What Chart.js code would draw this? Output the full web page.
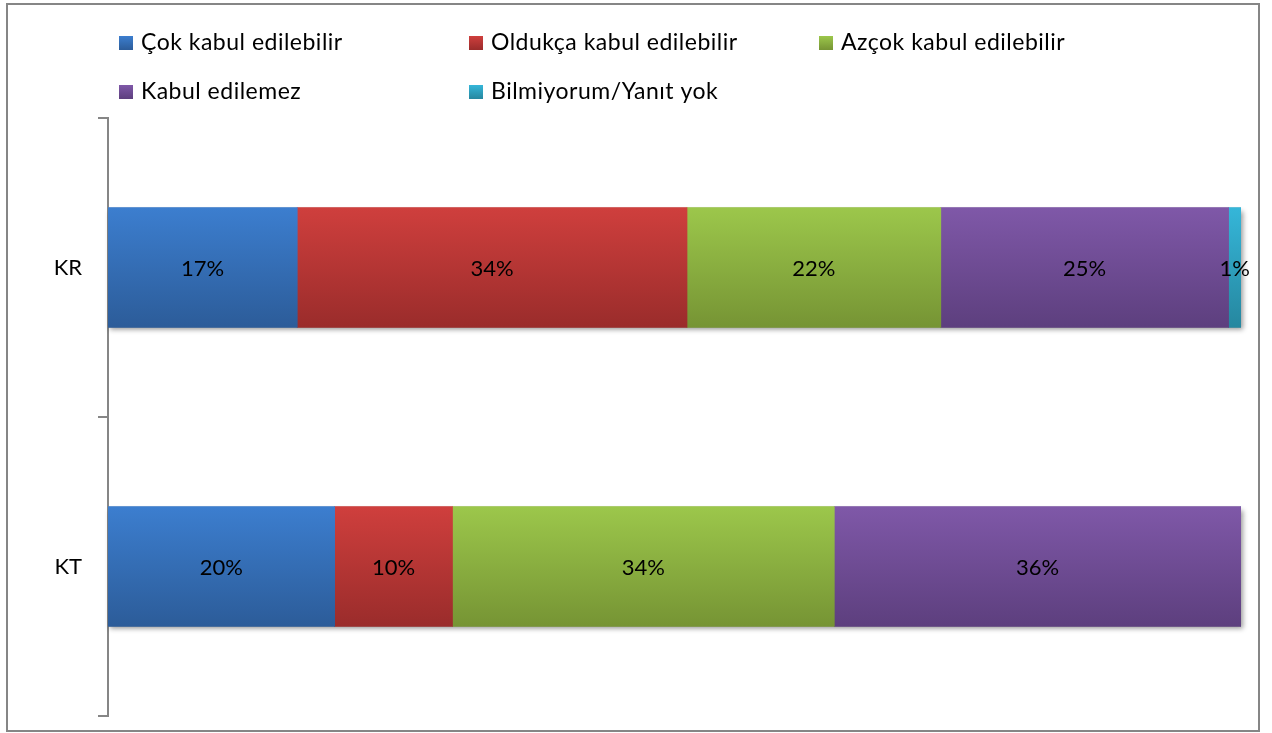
<!DOCTYPE html>
<html>
<head>
<meta charset="utf-8">
<script src="https://cdn.jsdelivr.net/npm/chart.js@4"></script>
<style>
html,body{margin:0;padding:0;background:#fff;overflow:hidden;}
#wrap{position:relative;width:1272px;height:733px;}
</style>
</head>
<body>
<div id="wrap"><canvas id="c" width="1272" height="733"></canvas></div>
<script>
// Categories (top to bottom)
const categories = ['KR', 'KT'];
// Series names
const seriesNames = ['Çok kabul edilebilir', 'Oldukça kabul edilebilir', 'Azçok kabul edilebilir', 'Kabul edilemez', 'Bilmiyorum/Yanıt yok'];
// Series values (percent share per category)
const cokKabul = [16.7, 20.0];
const oldukcaKabul = [34.4, 10.4];
const azcokKabul = [22.4, 33.7];
const kabulEdilemez = [25.4, 35.9];
const bilmiyorum = [1.1, 0];
// Axis ticks
const xTicks = [0, 100];

const seriesValues = [cokKabul, oldukcaKabul, azcokKabul, kabulEdilemez, bilmiyorum];
const colorsTop = ['#3c7ecf', '#cf3f3d', '#9cc74b', '#7f58a8', '#35b6d9'];
const colorsBottom = ['#2c5c99', '#9a2c2b', '#769434', '#5d3f7e', '#26879f'];
const FONT = 'Lato, "Open Sans", sans-serif';

function grad(ctx, i) {
  const chart = ctx.chart;
  const ys = chart.scales && chart.scales.y;
  if (!ys || !chart.chartArea || ctx.dataIndex === undefined) return colorsTop[i];
  const c = ys.getPixelForValue(ctx.dataIndex);
  const h = 60;
  const g = chart.ctx.createLinearGradient(0, c - h, 0, c + h);
  g.addColorStop(0, colorsTop[i]);
  g.addColorStop(1, colorsBottom[i]);
  return g;
}

const datasets = seriesNames.map((name, i) => ({
  label: name,
  data: seriesValues[i],
  backgroundColor: (ctx) => grad(ctx, i),
  borderWidth: 0,
  inflateAmount: 0.4,
  categoryPercentage: 1,
  barPercentage: 0.4
}));

const framePlugin = {
  id: 'frame',
  beforeDraw(chart) {
    const c = chart.ctx;
    c.save();
    c.fillStyle = '#fff';
    c.fillRect(0, 0, chart.width, chart.height);
    c.strokeStyle = '#868686';
    c.lineWidth = 2;
    c.strokeRect(7, 4, 1252, 727);
    c.restore();
  }
};

// one soft shadow per whole stacked bar
const shadowPlugin = {
  id: 'shadow',
  beforeDatasetsDraw(chart) {
    const c = chart.ctx;
    const xs = chart.scales.x;
    const meta = chart.getDatasetMeta(0);
    c.save();
    c.shadowColor = 'rgba(0,0,0,0.4)';
    c.shadowBlur = 5;
    c.shadowOffsetX = 2;
    c.shadowOffsetY = 3;
    c.fillStyle = '#888';
    meta.data.forEach((bar, i) => {
      const p = bar.getProps(['y', 'height'], true);
      let sum = 0;
      chart.data.datasets.forEach(ds => { sum += ds.data[i] || 0; });
      const l = xs.getPixelForValue(0), r = xs.getPixelForValue(sum);
      c.fillRect(l, p.y - p.height / 2, r - l, p.height);
    });
    c.restore();
  }
};

const labelPlugin = {
  id: 'valueLabels',
  afterDatasetsDraw(chart) {
    const c = chart.ctx;
    c.save();
    c.font = '22px ' + FONT;
    c.fillStyle = '#000';
    c.textAlign = 'center';
    c.textBaseline = 'middle';
    chart.data.datasets.forEach((ds, di) => {
      const meta = chart.getDatasetMeta(di);
      meta.data.forEach((bar, i) => {
        const v = ds.data[i];
        if (!v) return;
        const p = bar.getProps(['x', 'base', 'y'], true);
        c.fillText(Math.round(v) + '%', (p.x + p.base) / 2, p.y + 1);
      });
    });
    c.restore();
  }
};

const legendPlugin = {
  id: 'customLegend',
  afterDraw(chart) {
    const c = chart.ctx;
    const cols = [119, 469, 819];
    const rows = [43, 92];
    c.save();
    c.font = '23px ' + FONT;
    try { c.letterSpacing = '0.5px'; } catch (e) {}
    c.textBaseline = 'middle';
    c.textAlign = 'left';
    chart.data.datasets.forEach((ds, i) => {
      const x = cols[i % 3], y = rows[Math.floor(i / 3)];
      const g = c.createLinearGradient(0, y - 7, 0, y + 7);
      g.addColorStop(0, colorsTop[i]);
      g.addColorStop(1, colorsBottom[i]);
      c.fillStyle = g;
      c.fillRect(x, y - 7, 14, 14);
      c.fillStyle = '#000';
      c.fillText(ds.label, x + 22, y);
    });
    c.restore();
  }
};

new Chart(document.getElementById('c'), {
  type: 'bar',
  data: { labels: categories, datasets },
  plugins: [framePlugin, shadowPlugin, labelPlugin, legendPlugin],
  options: {
    indexAxis: 'y',
    responsive: false,
    animation: false,
    events: [],
    layout: { padding: { left: 0, right: 31, top: 118, bottom: 17 } },
    plugins: { legend: { display: false }, tooltip: { enabled: false } },
    scales: {
      x: {
        stacked: true,
        display: false,
        min: xTicks[0],
        max: xTicks[1]
      },
      y: {
        stacked: true,
        offset: true,
        afterFit(scale) {
          scale.width = 108;
          scale.paddingTop = 0;
          scale.paddingBottom = 0;
        },
        border: { display: true, color: '#868686', width: 2 },
        grid: {
          offset: true,
          drawOnChartArea: false,
          drawTicks: true,
          tickLength: 10,
          color: '#868686',
          lineWidth: 2
        },
        ticks: {
          color: '#000',
          padding: 16,
          font: { family: FONT, size: 22 }
        }
      }
    }
  }
});
</script>
</body>
</html>
